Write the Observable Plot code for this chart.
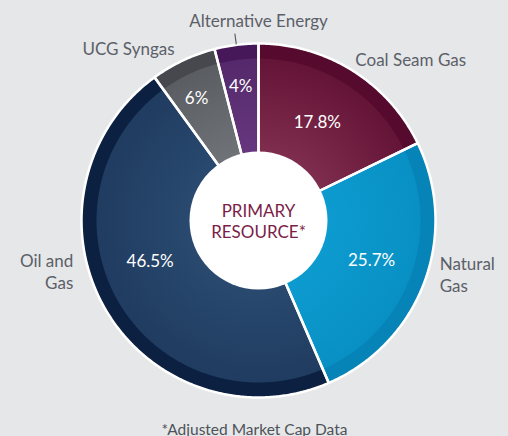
<!DOCTYPE html>
<html><head><meta charset="utf-8">
<script src="https://cdn.jsdelivr.net/npm/d3@7"></script>
<script src="https://cdn.jsdelivr.net/npm/@observablehq/plot@0.6"></script>
<style>
html,body{margin:0;padding:0;background:#e6e7e8;}
#chart{width:508px;height:436px;}
</style></head><body><div id="chart"></div>
<script>
// ---- data ----
const categories = ["Coal Seam Gas", "Natural Gas", "Oil and Gas", "UCG Syngas", "Alternative Energy"];
const shares = [17.8, 25.7, 46.5, 6, 4];
const shareLabels = ["17.8%", "25.7%", "46.5%", "6%", "4%"];
const categoryLines = ["Coal Seam Gas", "Natural\nGas", "Oil and\nGas", "UCG Syngas", "Alternative Energy"];
const centerTitle = "PRIMARY\nRESOURCE*";
const caption = "*Adjusted Market Cap Data";

// ---- style ----
const innerColors = ["#7f2d4e", "#0d9bcf", "#29496f", "#6f7277", "#66377e"];
const outerColors = ["#641437", "#0890c4", "#203c60", "#5a5d62", "#55286b"];
const rimColors   = ["#560a2d", "#0683b7", "#0c2041", "#46484d", "#46185a"];
const W = 508, H = 436, CX = 258, CY = 220, R = 177, RIM = 162, HOLE = 69;
const labelGray = "#5b6068";
// label layout (radius px, angle nudge deg)
const pctRadius = [114, 120, 116, 137, 135];
const pctNudge = [-1, -0.8, 8.8, -1.7, -0.4];
const nameLayout = [
  {r: 188, a: 31, anchor: "start"},
  {r: 189, a: 106.5, anchor: "start"},
  {r: 192, a: 254.7, anchor: "end"},
  {r: 216, a: 323, anchor: "middle"},
  {r: 200, a: 0, anchor: "middle"}
];

const total = d3.sum(shares);
let acc = 0;
const slices = categories.map((c, i) => {
  const a0 = acc / total * 360; acc += shares[i]; const a1 = acc / total * 360;
  return {i, c, a0, a1, mid: (a0 + a1) / 2};
});
const polar = (r, deg) => { const t = deg * Math.PI / 180; return [r * Math.sin(t), r * Math.cos(t)]; };
function ring(s, r0, r1) {
  const pts = [];
  const n = Math.max(2, Math.ceil((s.a1 - s.a0) * 2));
  for (let k = 0; k <= n; k++) { const [x, y] = polar(r1, s.a0 + (s.a1 - s.a0) * k / n); pts.push({x, y}); }
  for (let k = n; k >= 0; k--) { const [x, y] = polar(r0, s.a0 + (s.a1 - s.a0) * k / n); pts.push({x, y}); }
  pts.push({...pts[0]});
  return pts;
}

const marks = [];
slices.forEach(s => marks.push(Plot.line(ring(s, 0, R), {x: "x", y: "y", fill: `url(#grad${s.i})`, stroke: "none", curve: "linear"})));
slices.forEach(s => marks.push(Plot.line(ring(s, RIM, R), {x: "x", y: "y", fill: rimColors[s.i], stroke: "none", curve: "linear"})));
slices.forEach(s => marks.push(Plot.line(ring(s, 0, R), {x: "x", y: "y", fill: "none", stroke: "white", strokeWidth: 2.5, curve: "linear", strokeLinejoin: "round"})));
marks.push(Plot.dot([{x: 0, y: 0}], {x: "x", y: "y", r: HOLE, fill: "white", stroke: "none"}));
// leader for the last slice
const alt = slices[slices.length - 1];
marks.push(Plot.line([polar(R + 1, alt.mid), polar(R + 11, alt.mid)], {x: d => d[0], y: d => d[1], stroke: labelGray, strokeWidth: 1.2}));
// percentages
marks.push(Plot.text(slices, {
  x: d => polar(pctRadius[d.i], d.mid + pctNudge[d.i])[0],
  y: d => polar(pctRadius[d.i], d.mid + pctNudge[d.i])[1],
  text: d => shareLabels[d.i], fill: "white", fontSize: 17
}));
// category names
for (const anchor of ["start", "end", "middle"]) {
  const sel = slices.filter(d => nameLayout[d.i].anchor === anchor);
  marks.push(Plot.text(sel, {
    x: d => polar(nameLayout[d.i].r, nameLayout[d.i].a)[0],
    y: d => polar(nameLayout[d.i].r, nameLayout[d.i].a)[1],
    text: d => categoryLines[d.i], textAnchor: anchor, lineHeight: 1.27,
    fill: labelGray, fontSize: 17
  }));
}
marks.push(Plot.text([centerTitle], {x: () => 0, y: () => 0, text: d => d, fill: "#7b1e48", fontSize: 17, lineHeight: 1.24}));
marks.push(Plot.text([caption], {frameAnchor: "bottom", dy: -2, text: d => d, fill: "#4d5259", fontSize: 15.5}));

const plot = Plot.plot({
  width: W, height: H, margin: 0,
  x: {domain: [-CX, W - CX], axis: null},
  y: {domain: [-(H - CY), CY], axis: null},
  style: {background: "transparent", fontFamily: "Lato, 'Open Sans', sans-serif", fontSize: "17px"},
  marks
});

// radial gradients for the slices
const cx = plot.scale("x").apply(0), cy = plot.scale("y").apply(0);
const ns = "http://www.w3.org/2000/svg";
const defs = document.createElementNS(ns, "defs");
slices.forEach(s => {
  const g = document.createElementNS(ns, "radialGradient");
  g.setAttribute("id", `grad${s.i}`);
  g.setAttribute("gradientUnits", "userSpaceOnUse");
  g.setAttribute("cx", cx); g.setAttribute("cy", cy); g.setAttribute("r", R);
  [[HOLE / R, innerColors[s.i]], [RIM / R, outerColors[s.i]], [1, outerColors[s.i]]].forEach(([o, c]) => {
    const st = document.createElementNS(ns, "stop");
    st.setAttribute("offset", o); st.setAttribute("stop-color", c);
    g.appendChild(st);
  });
  defs.appendChild(g);
});
plot.insertBefore(defs, plot.firstChild);
document.getElementById("chart").appendChild(plot);
</script></body></html>
